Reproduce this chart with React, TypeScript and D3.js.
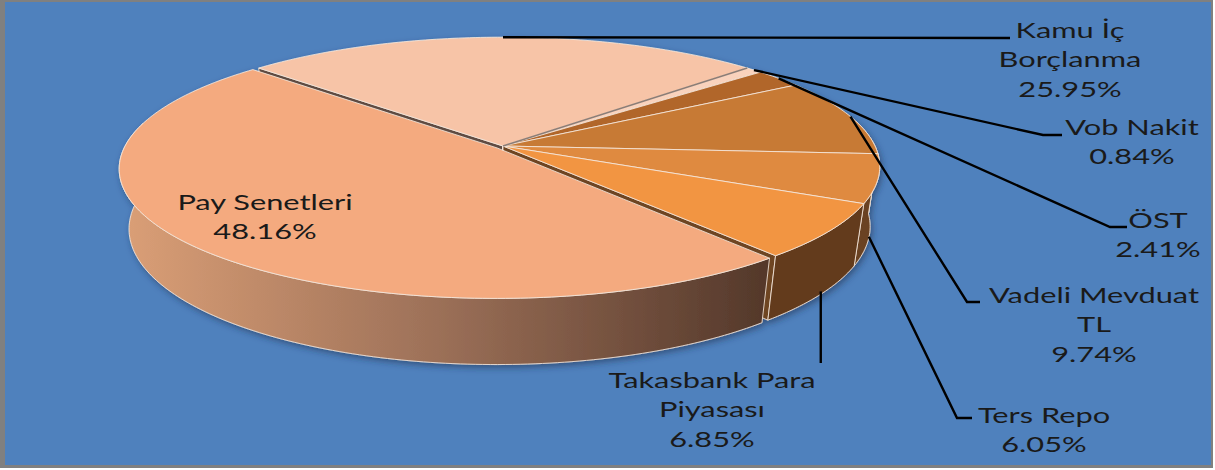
import React from 'react';
import * as d3 from 'd3';

// ---------- data ----------
const categories = ['Kamu İç Borçlanma', 'Vob Nakit', 'ÖST', 'Vadeli Mevduat TL', 'Ters Repo', 'Takasbank Para Piyasası', 'Pay Senetleri'];
const values = [25.95, 0.84, 2.41, 9.74, 6.05, 6.85, 48.16];
const labelLines = [['Kamu İç', 'Borçlanma'], ['Vob Nakit'], ['ÖST'], ['Vadeli Mevduat', 'TL'], ['Ters Repo'], ['Takasbank Para', 'Piyasası'], ['Pay Senetleri']];

// ---------- styles ----------
const topColors = ['#F7C4A7', '#F9D2BC', '#B1662C', '#C77A36', '#DF8A41', '#F29543', '#F4AA7F'];
const wallColors = ['#8A6A58', '#9A7866', '#6A401E', '#6E4522', '#6A4220', '#633B1C', 'url(#gPay)'];
const radialColors = ['#5E4C42', '#8E6D58', '#7A4A22', '#7C4E27', '#7A4A25', '#6E4524', '#6E5040'];
const endEdgeColors = ['#8C7D76', null, null, null, null, null, null];
const explode = [0, 0, 0, 0, 0, 0, 0.022];

// ---------- layout ----------
const W = 1215, H = 470;
const CX = 503, CY = 146, SX = 372, SY = 252, DIST = 5.47, PHI = (30 * Math.PI) / 180, DEPTH = 0.28;
const labelAnchors: [number, number][] = [[1070, 38], [1132, 135], [1158, 228], [1094, 303], [1044, 423], [712, 388], [265, 210]];
const leaderBends: ([number, number][] | null)[] = [
  [[1010, 38]],
  [[1043, 135], [1062, 135]],
  [[1110, 227], [1127, 227]],
  [[967, 302], [980, 302]],
  [[957, 418], [972, 418]],
  [[NaN, 363]],
  null,
];
const LINE_H = 29.5;
const TEXT_SX = 1.4;
const FONT = 'Lato, "Open Sans", "Noto Sans", sans-serif';

function project(theta: number, r: number, y: number, ox = 0, oz = 0): [number, number] {
  const x = r * Math.sin(theta) + ox;
  const z = r * Math.cos(theta) + oz;
  const up = y * Math.cos(PHI) + z * Math.sin(PHI);
  const depth = DIST + z * Math.cos(PHI) - y * Math.sin(PHI);
  const f = DIST / depth;
  return [CX + SX * x * f, CY - SY * up * f];
}

export default function App() {
  const total = d3.sum(values);
  const start = (-values[0] / total) * Math.PI;
  const arcs = d3.pie<number>().sort(null).startAngle(start).endAngle(start + 2 * Math.PI)(values);
  const slices = arcs.map((a, i) => {
    const mid = (a.startAngle + a.endAngle) / 2;
    const e = explode[i];
    return { i, a0: a.startAngle, a1: a.endAngle, mid, ox: e * Math.sin(mid), oz: e * Math.cos(mid) };
  });
  type S = typeof slices[number];
  const line = d3.line();
  const arcPts = (s: S, y: number, from: number, to: number) => {
    const n = Math.max(2, Math.ceil(Math.abs(to - from) / (Math.PI / 180)));
    return d3.range(n + 1).map((k) => project(from + ((to - from) * k) / n, 1, y, s.ox, s.oz));
  };
  const topPath = (s: S) => line([project(0, 0, 0, s.ox, s.oz), ...arcPts(s, 0, s.a0, s.a1)]) + 'Z';
  const frontLo = Math.PI / 2 - 0.2, frontHi = (3 * Math.PI) / 2 + 0.2;
  const wallPath = (s: S) => {
    const lo = Math.max(s.a0, frontLo), hi = Math.min(s.a1, frontHi);
    if (hi <= lo) return null;
    return line([...arcPts(s, 0, lo, hi), ...arcPts(s, -DEPTH, hi, lo)]) + 'Z';
  };
  const radialPath = (s: S, ang: number) =>
    line([project(0, 0, 0, s.ox, s.oz), project(ang, 1, 0, s.ox, s.oz), project(ang, 1, -DEPTH, s.ox, s.oz), project(0, 0, -DEPTH, s.ox, s.oz)]) + 'Z';
  const radials = (s: S) => {
    const out: { d: string; key: string }[] = [];
    if (Math.cos(s.a0 - Math.PI / 2) < 0) out.push({ d: radialPath(s, s.a0), key: 's' });
    if (Math.cos(s.a1 + Math.PI / 2) < 0) out.push({ d: radialPath(s, s.a1), key: 'e' });
    return out;
  };
  const edge = { stroke: '#F4E6DA', strokeWidth: 1, strokeOpacity: 0.85, strokeLinejoin: 'round' as const };

  const base = slices.filter((s) => explode[s.i] === 0);
  const popped = slices.filter((s) => explode[s.i] > 0).sort((a, b) => Math.cos(b.mid) - Math.cos(a.mid));

  const renderGroup = (group: S[], k: string) => (
    <g key={k}>
      {group.map((s) => radials(s).map((r) => <path key={`r${s.i}${r.key}`} d={r.d} fill={radialColors[s.i]} {...edge} />))}
      {group.map((s) => {
        const d = wallPath(s);
        return d ? <path key={`w${s.i}`} d={d} fill={wallColors[s.i]} {...edge} /> : null;
      })}
      {group.map((s) => <path key={`t${s.i}`} d={topPath(s)} fill={topColors[s.i]} {...edge} />)}
      {group.map((s) =>
        endEdgeColors[s.i] ? (
          <path key={`e${s.i}`} d={line([project(0, 0, 0, s.ox, s.oz), project(s.a1, 1, 0, s.ox, s.oz)]) || ''} stroke={endEdgeColors[s.i] as string} strokeWidth={1.6} fill="none" />
        ) : null
      )}
    </g>
  );

  const leaders = slices.map((s) => {
    const bends = leaderBends[s.i];
    if (!bends) return null;
    const front = Math.cos(s.mid) < 0;
    const p0 = project(s.mid, 1, front ? -DEPTH * 0.95 : 0, s.ox, s.oz);
    const pts: [number, number][] = [p0, ...bends.map((b) => [isNaN(b[0]) ? p0[0] : b[0], b[1]] as [number, number])];
    return <path key={`l${s.i}`} d={line(pts) || ''} fill="none" stroke="#000" strokeWidth={2.4} />;
  });

  return (
    <div style={{ position: 'absolute', left: 0, top: 0 }}>
      <svg width={W} height={H} viewBox={`0 0 ${W} ${H}`} style={{ display: 'block' }}>
        <defs>
          <linearGradient id="gPay" gradientUnits="userSpaceOnUse" x1={115} y1={0} x2={760} y2={0}>
            <stop offset="0" stopColor="#DCA077" />
            <stop offset="0.5" stopColor="#9C7058" />
            <stop offset="1" stopColor="#55392B" />
          </linearGradient>
          <filter id="sh" x="-10%" y="-10%" width="120%" height="130%">
            <feDropShadow dx="2" dy="3" stdDeviation="3" floodColor="#1a2f4f" floodOpacity="0.55" />
          </filter>
        </defs>
        <rect x={0} y={0} width={W} height={H} fill="#ffffff" />
        <rect x={0} y={0} width={1213} height={468} fill="#808080" />
        <rect x={5} y={2} width={1206} height={463} fill="#4F81BD" />
        <g filter="url(#sh)">
          {renderGroup(base, 'base')}
          {popped.map((s) => renderGroup([s], `p${s.i}`))}
        </g>
        {leaders}
        {slices.map((s) => {
          const [x, y] = labelAnchors[s.i];
          const lines = [...labelLines[s.i], `${values[s.i].toFixed(2)}%`];
          return (
            <g key={`lab${s.i}`} transform={`translate(${x},${y}) scale(${TEXT_SX},1)`} fontFamily={FONT} fontSize={22} fill="#1a1a1a" textAnchor="middle">
              {lines.map((t, k) => (
                <text key={k} x={0} y={k * LINE_H}>{t}</text>
              ))}
            </g>
          );
        })}
      </svg>
    </div>
  );
}
